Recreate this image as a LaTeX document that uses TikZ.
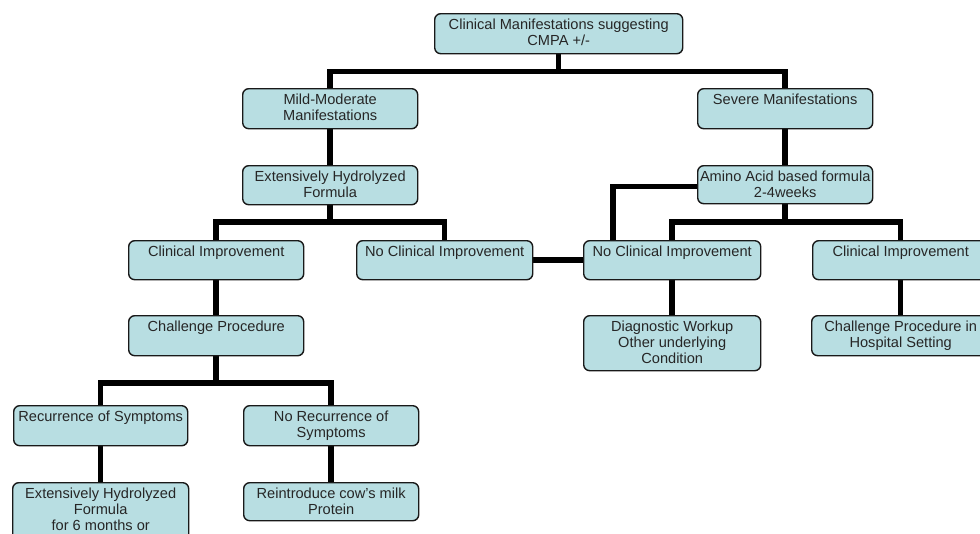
\documentclass[tikz,border=0pt]{standalone}
\usepackage{fontspec}
\setmainfont{Liberation Sans}
\usetikzlibrary{backgrounds}
\definecolor{boxfill}{RGB}{184,222,226}
\definecolor{boxline}{RGB}{25,25,25}
\begin{document}
\begin{tikzpicture}[x=1pt,y=-1pt,
  txt/.style={font=\fontsize{14.6}{16}\selectfont, align=center, inner sep=1pt, anchor=north, yshift=-5pt, text=black!85},
  box/.style={draw=boxline, fill=boxfill, line width=1.4pt, rounded corners=6pt, inner sep=0pt, anchor=north west, label={[txt]north:{#1}}},
  conn/.style={line width=5.5pt, black}]
\useasboundingbox (0,0) rectangle (980,533);
\clip (0,0) rectangle (980,533);
% boxes
\node[box={Clinical Manifestations suggesting\\CMPA +/-}, minimum width=248, minimum height=40] (top) at (434,13) {};
\node[box={Mild-Moderate\\Manifestations}, minimum width=175, minimum height=40] (mild) at (242,88) {};
\node[box={Severe Manifestations}, minimum width=175, minimum height=40] (severe) at (697,88) {};
\node[box={Extensively Hydrolyzed\\Formula}, minimum width=175, minimum height=39] (eh) at (242,165) {};
\node[box={Amino Acid based formula\\2-4weeks}, minimum width=175, minimum height=38] (amino) at (697,165) {};
\node[box={Clinical Improvement}, minimum width=175, minimum height=39] (ciL) at (128,240) {};
\node[box={No Clinical Improvement}, minimum width=176, minimum height=39] (nciL) at (356,240) {};
\node[box={No Clinical Improvement}, minimum width=177, minimum height=39] (nciR) at (583,240) {};
\node[box={Clinical Improvement}, minimum width=176, minimum height=39] (ciR) at (812,240) {};
\node[box={Challenge Procedure}, minimum width=175, minimum height=40] (chal) at (128,315) {};
\node[box={Diagnostic Workup\\Other underlying\\Condition}, minimum width=177, minimum height=55] (diag) at (583,315) {};
\node[box={Challenge Procedure in\\Hospital Setting}, minimum width=178, minimum height=40] (hosp) at (811,315) {};
\node[box={Recurrence of Symptoms}, minimum width=174, minimum height=40] (rec) at (13,405) {};
\node[box={No Recurrence of\\Symptoms}, minimum width=175, minimum height=40] (norec) at (243,405) {};
\node[box={Extensively Hydrolyzed\\Formula\\for 6 months or}, minimum width=176, minimum height=80] (ehsix) at (12,482) {};
\node[box={Reintroduce cow’s milk\\Protein}, minimum width=175, minimum height=38] (reint) at (243,482) {};
% connectors (behind boxes)
\begin{scope}[on background layer]
\draw[conn] (top.south) -- ++(0,17) coordinate (topbar);
\draw[conn] (mild.north) |- (topbar) -| (severe.north);
\draw[conn] (mild.south) -- (eh.north);
\draw[conn] (severe.south) -- (amino.north);
\draw[conn] (eh.south) -- ++(0,18);
\draw[conn] (ciL.north) -- ++(0,-18) -| (nciL.north);
\draw[conn] (amino.south) -- ++(0,19);
\draw[conn] (nciR.north) -- ++(0,-18) -| (ciR.north);
\draw[conn] ([yshift=-2pt]amino.west) -| ([xshift=30pt]nciR.north west);
\draw[conn] (nciL.east) -- (nciR.west);
\draw[conn] (ciL.south) -- (chal.north);
\draw[conn] (nciR.south) -- (diag.north);
\draw[conn] (ciR.south) -- (hosp.north);
\draw[conn] (chal.south) -- ++(0,28);
\draw[conn] (rec.north) -- ++(0,-22) -| (norec.north);
\draw[conn] (rec.south) -- (ehsix.north);
\draw[conn] (norec.south) -- (reint.north);
\end{scope}
\end{tikzpicture}
\end{document}
